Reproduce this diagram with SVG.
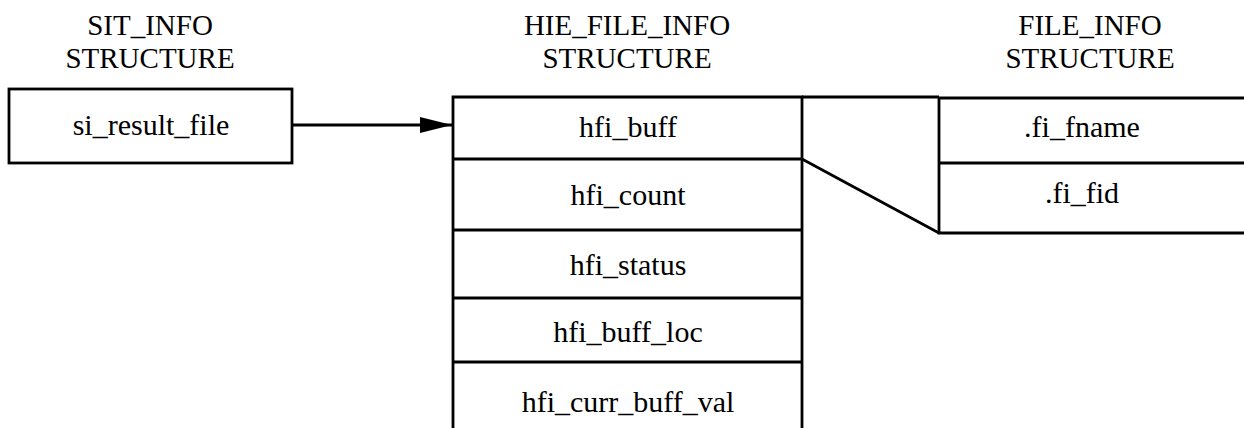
<svg xmlns="http://www.w3.org/2000/svg" width="1244" height="428" viewBox="0 0 1244 428">
<style>
text{font-family:"Liberation Serif","Times New Roman",serif;font-size:30px;fill:#000;text-anchor:middle}
.t{font-size:29px}
.b{fill:none;stroke:#000;stroke-width:2.8}
</style>
<defs>
<marker id="ah" markerWidth="32" markerHeight="16" refX="32" refY="8" orient="auto" markerUnits="userSpaceOnUse" viewBox="0 0 32 16">
<path d="M0,0 L32,8 L0,16 Z" fill="#000"/>
</marker>
</defs>
<rect width="1244" height="428" fill="#fff"/>
<g id="sit_info">
<text class="t" x="150" y="35">SIT_INFO</text>
<text class="t" x="150" y="68">STRUCTURE</text>
<rect class="b" x="9" y="89" width="283" height="74"/>
<text x="151" y="135">si_result_file</text>
</g>
<g id="hie_file_info">
<text class="t" x="627" y="35">HIE_FILE_INFO</text>
<text class="t" x="627" y="68">STRUCTURE</text>
<path class="b" d="M453,440 V97 H802 V440 M453,159 H802 M453,230 H802 M453,298 H802 M453,362 H802"/>
<text x="628" y="137">hfi_buff</text>
<text x="628" y="205">hfi_count</text>
<text x="628" y="275">hfi_status</text>
<text x="628" y="342">hfi_buff_loc</text>
<text x="628" y="412">hfi_curr_buff_val</text>
</g>
<g id="file_info">
<text class="t" x="1090" y="35">FILE_INFO</text>
<text class="t" x="1090" y="68">STRUCTURE</text>
<path class="b" d="M1250,98 H939 V233 H1250 M939,163 H1250"/>
<text x="1082" y="137">.fi_fname</text>
<text x="1082" y="203">.fi_fid</text>
</g>
<g id="connectors">
<line class="b" x1="292" y1="125" x2="452" y2="125" marker-end="url(#ah)"/>
<path class="b" d="M802,97 H939 M802,159 L939,233"/>
</g>
</svg>
